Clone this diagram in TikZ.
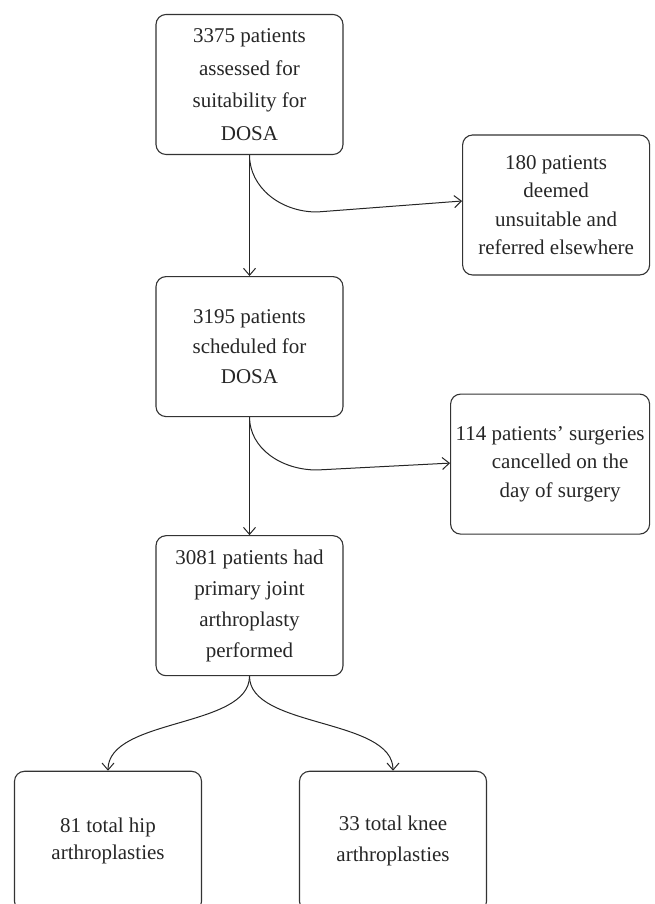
\documentclass[tikz,border=0pt]{standalone}
\usepackage{fontspec}
\setmainfont{Liberation Serif}
\usepackage{tikz}
\usetikzlibrary{arrows.meta,positioning}
\tikzset{box/.style={rectangle,rounded corners=10pt,draw=black!80,line width=1.1pt,minimum width=187pt,minimum height=140pt,inner sep=2pt,align=center,text=black!85,font=\fontsize{21}{30}\selectfont},}
\tikzstyle{arrow} = [line width=1pt,draw=black!85,-{Straight Barb[length=7pt,width=12pt]}]

\begin{document}
\begin{tikzpicture}[x=1pt,y=1pt]
    \useasboundingbox (0,0) rectangle (654,904);

    \node[box,font=\fontsize{21}{32.5}\selectfont] (assess) at (249.5,819.5) {3375 patients\\assessed for\\suitability for\\DOSA};
    \node[box] (sched) [below=121pt of assess] {3195 patients\\scheduled for\\DOSA};
    \node[box,font=\fontsize{21}{31}\selectfont] (primary) [below=118pt of sched] {3081 patients had\\primary joint\\arthroplasty\\performed};

    \node[box,font=\fontsize{21}{28.5}\selectfont] (unsuit) [right=118.5pt of assess, yshift=-120.5pt] {180 patients\\deemed\\unsuitable and\\referred elsewhere};
    \node[box,minimum width=199pt,font=\fontsize{21}{28.5}\selectfont] (cancel) [right=106.5pt of sched, yshift=-117.5pt] {114 patients’ surgeries\\\hspace*{20pt}cancelled on the\\\hspace*{20pt}day of surgery};

    \node[box,font=\fontsize{21}{27}\selectfont] (hip) [below=94.5pt of primary, xshift=-141.5pt] {81 total hip\\arthroplasties};
    \node[box,font=\fontsize{21}{31}\selectfont] (knee) [below=94.5pt of primary, xshift=143.5pt] {33 total knee\\arthroplasties};

    \coordinate (bend1) at (317,692);
    \coordinate (bend2) at (317,434);

    \draw [arrow] (assess) -- (sched);
    \draw [arrow] (sched) -- (primary);
    \draw [arrow] (assess.south) .. controls +(0,-32) and +(-37,0) .. (bend1) -- ([yshift=4pt]unsuit.west);
    \draw [arrow] (sched.south) .. controls +(0,-31) and +(-36,0) .. (bend2) -- ([yshift=1pt]cancel.west);
    \draw [arrow] (primary.south) .. controls +(0,-52) and +(0,53) .. (hip.north);
    \draw [arrow] (primary.south) .. controls +(0,-52) and +(0,53) .. (knee.north);
\end{tikzpicture}
\end{document}
